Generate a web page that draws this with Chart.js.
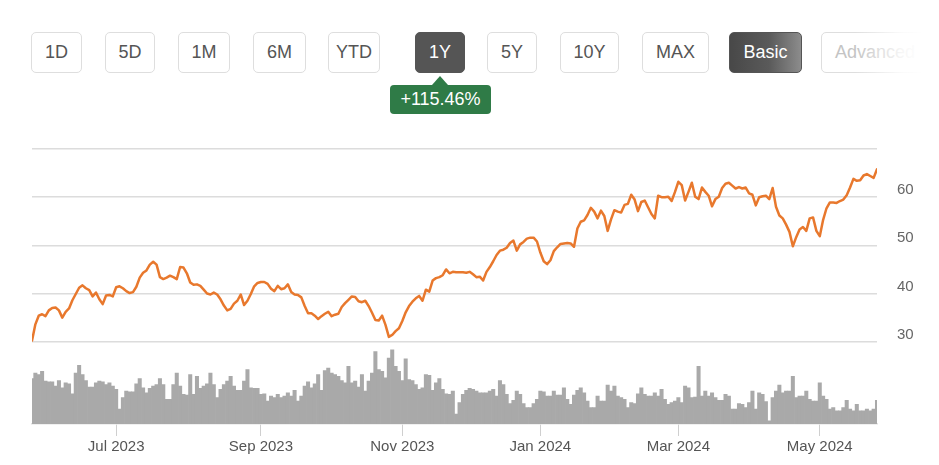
<!DOCTYPE html>
<html><head><meta charset="utf-8">
<script src="https://cdn.jsdelivr.net/npm/chart.js@4.4.1/dist/chart.umd.min.js"></script>
<style>
html,body{margin:0;padding:0;background:#fff;width:939px;height:465px;overflow:hidden;font-family:"Liberation Sans",Arial,Helvetica,sans-serif;}
.btn{position:absolute;top:32px;height:41px;box-sizing:border-box;border:1px solid #dedede;border-radius:5px;background:#fff;color:#555;font-size:18px;display:flex;align-items:center;justify-content:center;}
.dark{background:#555;border-color:#555;color:#fff;}
.basic{background:linear-gradient(90deg,#484848 0%,#5a5a5a 55%,#8c8c8c 100%);border-color:#555;color:#fff;}
.adv{color:#c4c4c4;justify-content:flex-start;padding-left:13px;}
#fade{position:absolute;left:855px;top:25px;width:84px;height:55px;background:linear-gradient(90deg,rgba(255,255,255,0) 0%,rgba(255,255,255,0.85) 55%,#fff 80%);}
#badge{position:absolute;left:390px;top:85px;width:101px;height:29px;background:#2f7b47;border-radius:4px;color:#fff;font-size:18px;display:flex;align-items:center;justify-content:center;}
#badge:before{content:"";position:absolute;left:42px;top:-9px;border-left:8px solid transparent;border-right:8px solid transparent;border-bottom:9px solid #2f7b47;}
#wrap{position:absolute;left:0;top:120px;width:939px;height:345px;}
</style></head>
<body>
<div class="btn" style="left:31px;width:51px">1D</div>
<div class="btn" style="left:105px;width:50px">5D</div>
<div class="btn" style="left:178px;width:52px">1M</div>
<div class="btn" style="left:253px;width:53px">6M</div>
<div class="btn" style="left:328px;width:52px">YTD</div>
<div class="btn dark" style="left:415px;width:50px">1Y</div>
<div class="btn" style="left:487px;width:50px">5Y</div>
<div class="btn" style="left:560px;width:59px">10Y</div>
<div class="btn" style="left:642px;width:67px">MAX</div>
<div class="btn basic" style="left:729px;width:73px">Basic</div>
<div class="btn adv" style="left:821px;width:112px">Advanced</div>
<div id="fade"></div>
<div id="badge">+115.46%</div>
<div id="wrap"><canvas id="c"></canvas></div>
<script>
// ---- data ----
const startDate = '2023-05-25';
const marketHolidays = ['2023-05-29','2023-06-19','2023-07-04','2023-09-04','2023-11-23','2023-12-25','2024-01-01','2024-01-15','2024-02-19','2024-03-29','2024-05-27'];
const monthTickLabels = ['Jul 2023','Sep 2023','Nov 2023','Jan 2024','Mar 2024','May 2024'];
const priceTickLabels = ['30','40','50','60'];

const prices = [
30.2,33.6,35.4,35.7,35.3,36.5,37.0,37.1,36.5,35.0,
36.2,36.9,38.6,39.9,41.2,41.7,41.1,40.7,39.4,40.2,
38.8,37.8,39.6,39.7,39.4,41.3,41.5,41.1,40.5,40.1,
40.3,41.4,43.3,44.3,44.8,46.0,46.6,46.0,43.4,43.0,
43.3,43.7,43.4,43.0,45.5,45.4,44.2,42.3,41.8,41.9,
41.6,40.8,40.0,39.8,40.2,39.8,38.8,37.5,36.5,36.8,
37.9,38.5,39.8,37.6,38.5,39.9,41.5,42.2,42.4,42.4,
42.0,41.0,40.5,41.6,40.9,41.1,41.9,40.3,39.8,39.7,
39.2,37.4,35.9,35.9,35.4,34.7,35.3,35.8,36.2,35.3,
35.6,35.8,37.2,38.0,38.7,39.4,39.3,38.4,38.2,38.5,
37.4,36.0,34.5,34.4,35.4,33.5,31.0,31.4,32.2,32.8,
34.3,36.1,37.4,38.3,39.0,39.5,38.5,40.8,40.4,42.7,
43.2,43.4,43.8,45.0,44.2,44.5,44.4,44.4,44.4,44.3,
44.5,44.0,43.4,43.5,42.7,44.5,45.5,46.7,48.0,48.9,
49.1,49.5,50.5,51.0,48.9,50.2,50.7,51.4,51.6,51.6,
50.8,48.5,46.7,46.1,46.9,48.8,49.6,50.3,50.4,50.5,
50.4,49.7,53.5,54.9,55.2,56.3,57.8,57.0,55.6,57.2,
56.1,53.0,55.4,57.3,57.0,56.8,58.4,58.6,60.5,59.5,
57.1,59.0,59.3,57.9,56.5,55.6,60.3,60.0,60.0,60.1,
59.2,61.1,63.2,62.5,59.3,61.1,63.0,60.1,59.6,62.0,
61.1,60.3,58.1,59.6,60.1,61.9,62.8,63.0,62.4,61.8,
62.1,61.8,62.0,60.8,60.5,58.3,60.0,60.2,60.3,59.6,
61.9,58.0,56.2,55.6,54.3,52.8,49.8,51.7,53.3,53.8,
53.0,55.6,55.8,53.0,51.9,55.3,57.7,58.9,58.9,58.8,
59.2,59.5,60.4,62.0,63.8,63.4,63.5,64.5,64.8,64.4,
64.0,65.8
];

const volumes = [
13.8,15.5,15.0,16.0,13.0,12.8,12.8,11.5,13.2,11.0,
12.5,12.2,9.2,15.5,17.8,15.0,13.2,11.2,11.2,12.5,
13.0,12.8,12.0,12.5,11.5,10.5,4.5,8.0,10.0,9.8,
9.8,12.2,13.8,11.0,9.5,10.8,11.5,12.0,13.8,12.0,
7.5,7.5,12.0,15.5,11.5,9.0,8.8,15.0,9.0,14.5,
10.8,11.5,12.2,15.5,12.0,8.0,10.5,12.0,13.0,14.5,
11.5,10.2,10.2,13.0,16.5,11.0,10.8,10.8,9.0,9.2,
7.0,8.5,8.0,9.0,8.0,8.5,9.5,8.5,10.2,7.0,
8.5,11.5,12.8,11.0,12.2,15.0,10.2,16.2,17.0,15.5,
15.0,14.5,13.2,12.5,17.5,12.5,13.0,11.2,15.0,10.0,
13.0,15.5,22.0,16.5,16.0,14.0,20.0,22.5,17.5,16.0,
13.2,19.8,13.5,13.2,12.0,10.5,11.0,15.0,14.8,10.2,
12.5,13.8,10.5,9.2,
9.0,10.0,3.0,6.5,9.0,10.2,10.8,10.5,10.0,9.5,
9.5,9.5,10.0,10.5,8.5,13.2,12.0,9.0,6.2,7.2,
10.0,9.0,6.2,5.0,5.0,6.2,7.5,10.0,9.8,8.5,
8.5,10.0,8.8,8.8,11.0,7.5,6.0,8.8,10.2,11.0,
9.5,7.0,5.0,5.0,8.5,7.0,7.0,11.8,10.0,11.5,
8.5,8.0,7.5,5.0,6.5,6.2,9.2,11.0,9.0,8.5,
8.5,9.5,8.5,10.5,7.5,6.0,6.5,7.0,8.0,6.5,
11.5,11.0,8.0,8.2,17.5,8.5,10.0,8.5,9.5,8.0,
7.2,7.2,9.0,8.5,4.5,4.5,6.2,6.0,5.0,6.5,
10.0,4.5,9.5,9.0,6.8,1.0,8.0,10.0,11.8,9.5,
10.0,10.0,14.5,8.0,8.5,8.5,10.0,7.5,7.0,7.0,
12.5,8.5,7.5,4.5,5.0,4.0,4.0,5.0,7.2,4.5,
4.0,6.0,4.0,4.0,4.5,4.0,4.5,7.2
];

// ---- trading calendar (dates for each point) ----
const MONTHS = ['Jan','Feb','Mar','Apr','May','Jun','Jul','Aug','Sep','Oct','Nov','Dec'];
function iso(d){return d.toISOString().slice(0,10);}
function tradingDays(start, n){
  const out=[]; const d=new Date(start+'T00:00:00Z');
  while(out.length<n){
    const wd=d.getUTCDay();
    if(wd!==0 && wd!==6 && !marketHolidays.includes(iso(d))) out.push(new Date(d));
    d.setUTCDate(d.getUTCDate()+1);
  }
  return out;
}
const dates = tradingDays(startDate, prices.length);
const monthOf = d => MONTHS[d.getUTCMonth()]+' '+d.getUTCFullYear();
const monthTickIndex = monthTickLabels.map(l => dates.findIndex(d => monthOf(d)===l));

const pricePts = prices.map((v,i)=>({x:i,y:v}));
const volPts = volumes.map((v,i)=>({x:i,y:v}));

new Chart(document.getElementById('c'), {
  data: {
    datasets: [
      {type:'line', data: pricePts, yAxisID:'y', xAxisID:'x', borderColor:'#e8782d', borderWidth:2.5, pointRadius:0, tension:0, borderJoinStyle:'round', borderCapStyle:'round'},
      {type:'bar', data: volPts, yAxisID:'yv', xAxisID:'x', backgroundColor:'#a9a9a9', borderWidth:0, barPercentage:1, categoryPercentage:1}
    ]
  },
  options: {
    responsive:true, maintainAspectRatio:false, animation:false,
    layout:{padding:{left:32, top:10, right:0, bottom:0}},
    plugins:{legend:{display:false}, tooltip:{enabled:false}},
    scales:{
      x:{type:'linear', min:0, max:prices.length-1, offset:false,
        afterBuildTicks: s => { s.ticks = monthTickIndex.map(v=>({value:v})); },
        afterFit: s => { s.height = 41; },
        ticks:{autoSkip:false, maxRotation:0, padding:2, color:'#555', font:{family:'"Liberation Sans", Arial, sans-serif', size:15},
          callback: v => { const k = monthTickIndex.indexOf(v); return k>=0 ? monthTickLabels[k] : ''; }},
        grid:{offset:false, drawOnChartArea:false, drawTicks:true, tickLength:12, color:'#cfcfcf', lineWidth:1},
        border:{display:true, color:'#e2e2e2', width:1.5}
      },
      y:{type:'linear', position:'right', stack:'s', stackWeight:192, min:30, max:70,
        afterFit: s => { s.width = 62; },
        ticks:{stepSize:10, padding:20, labelOffset:-7, color:'#666', font:{family:'"Liberation Sans", Arial, sans-serif', size:15},
          callback: v => priceTickLabels.includes(String(v)) ? String(v) : ''},
        grid:{drawTicks:false, color:'#dcdcdc', lineWidth:1.5},
        border:{display:false}
      },
      yv:{type:'linear', position:'right', stack:'s', stackWeight:82, min:0, max:25,
        afterFit: s => { s.width = 62; },
        ticks:{display:false}, grid:{display:false, drawTicks:false}, border:{display:false}
      }
    }
  }
});
</script>
</body></html>
